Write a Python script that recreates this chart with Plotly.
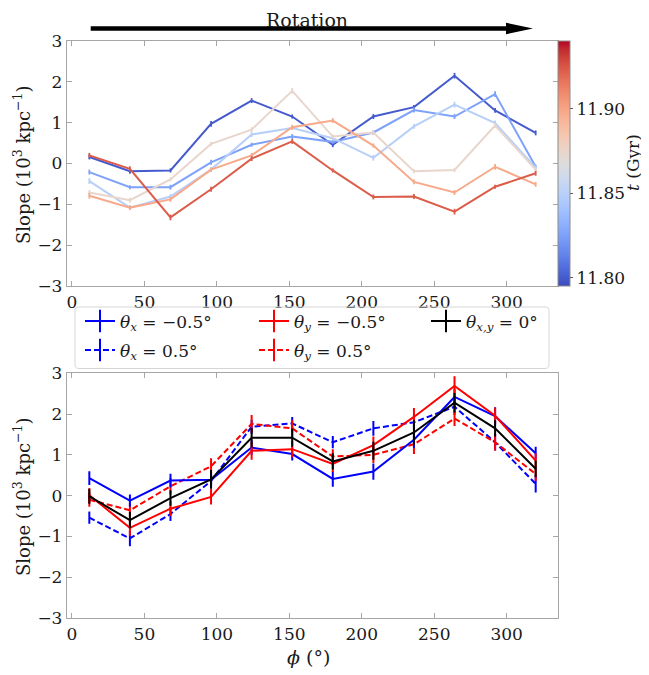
import plotly.graph_objects as go
from plotly.colors import sample_colorscale

# ---------------- data ----------------
phi = [12, 40, 68, 96, 124, 152, 180, 208, 236, 264, 292, 320]

times = [11.800, 11.825, 11.849, 11.874, 11.898, 11.923]
t_min, t_max = 11.795, 11.940

slope_t0 = [0.16, -0.19, -0.17, 0.97, 1.54, 1.15, 0.46, 1.15, 1.38, 2.15, 1.30, 0.75]
slope_t1 = [-0.21, -0.58, -0.58, 0.03, 0.46, 0.66, 0.53, 0.76, 1.31, 1.15, 1.70, -0.08]
slope_t2 = [-0.43, -1.08, -0.81, -0.15, 0.71, 0.87, 0.62, 0.14, 0.91, 1.44, 0.99, -0.10]
slope_t3 = [-0.71, -0.90, -0.39, 0.48, 0.83, 1.78, 0.66, 0.76, -0.19, -0.16, 0.93, -0.15]
slope_t4 = [-0.79, -1.08, -0.88, -0.15, 0.20, 0.89, 1.05, 0.44, -0.45, -0.71, -0.08, -0.51]
slope_t5 = [0.20, -0.13, -1.32, -0.63, 0.12, 0.54, -0.17, -0.82, -0.81, -1.18, -0.57, -0.24]

err_t0 = [0.06, 0.06, 0.05, 0.07, 0.06, 0.05, 0.06, 0.06, 0.05, 0.07, 0.06, 0.06]
err_t1 = [0.06, 0.05, 0.06, 0.06, 0.05, 0.06, 0.05, 0.06, 0.06, 0.06, 0.07, 0.05]
err_t2 = [0.07, 0.05, 0.06, 0.06, 0.06, 0.05, 0.06, 0.07, 0.06, 0.07, 0.06, 0.05]
err_t3 = [0.06, 0.06, 0.05, 0.05, 0.06, 0.07, 0.05, 0.06, 0.05, 0.05, 0.06, 0.05]
err_t4 = [0.07, 0.06, 0.06, 0.05, 0.06, 0.06, 0.06, 0.05, 0.06, 0.06, 0.07, 0.06]
err_t5 = [0.06, 0.06, 0.07, 0.06, 0.06, 0.06, 0.05, 0.06, 0.06, 0.07, 0.05, 0.06]

top_slopes = [slope_t0, slope_t1, slope_t2, slope_t3, slope_t4, slope_t5]
top_errs = [err_t0, err_t1, err_t2, err_t3, err_t4, err_t5]

thx_neg = [0.43, -0.12, 0.37, 0.39, 1.18, 1.02, 0.41, 0.59, 1.37, 2.42, 1.95, 1.04]
thx_pos = [-0.54, -1.05, -0.45, 0.36, 1.69, 1.77, 1.31, 1.65, 1.80, 2.18, 1.31, 0.29]
thy_neg = [0.01, -0.79, -0.32, -0.03, 1.10, 1.14, 0.78, 1.24, 1.93, 2.69, 1.96, 0.86]
thy_pos = [-0.10, -0.36, 0.23, 0.72, 1.76, 1.65, 0.96, 1.00, 1.26, 1.89, 1.31, 0.53]
th_zero = [-0.02, -0.60, -0.06, 0.40, 1.42, 1.42, 0.84, 1.10, 1.55, 2.28, 1.65, 0.66]

thx_neg_err = [0.17, 0.15, 0.17, 0.16, 0.18, 0.16, 0.19, 0.20, 0.20, 0.20, 0.22, 0.16]
thx_pos_err = [0.15, 0.19, 0.17, 0.18, 0.17, 0.16, 0.15, 0.18, 0.20, 0.20, 0.20, 0.21]
thy_neg_err = [0.18, 0.20, 0.18, 0.19, 0.22, 0.20, 0.20, 0.21, 0.22, 0.24, 0.20, 0.18]
thy_pos_err = [0.17, 0.18, 0.20, 0.20, 0.22, 0.20, 0.18, 0.20, 0.24, 0.18, 0.20, 0.17]
th_zero_err = [0.18, 0.20, 0.19, 0.23, 0.24, 0.22, 0.20, 0.22, 0.30, 0.24, 0.20, 0.20]

legend_labels = [
    "<i>θ<sub>x</sub></i> = −0.5°",
    "<i>θ<sub>y</sub></i> = −0.5°",
    "<i>θ<sub>x,y</sub></i> = 0°",
    "<i>θ<sub>x</sub></i> = 0.5°",
    "<i>θ<sub>y</sub></i> = 0.5°",
]

x_ticks = [0, 50, 100, 150, 200, 250, 300]
y_ticks = [-3, -2, -1, 0, 1, 2, 3]
cbar_ticks = [11.80, 11.85, 11.90]

# ---------------- style ----------------
coolwarm_rgb = [
    (59, 76, 192), (68, 90, 204), (77, 104, 215), (87, 117, 225), (98, 130, 234),
    (108, 142, 241), (119, 154, 247), (130, 165, 251), (141, 176, 254), (152, 185, 255),
    (163, 194, 255), (174, 201, 253), (184, 208, 249), (194, 213, 244), (204, 217, 238),
    (213, 219, 230), (221, 221, 221), (229, 216, 209), (236, 211, 197), (241, 204, 185),
    (245, 196, 173), (247, 187, 160), (247, 177, 148), (247, 166, 135), (244, 154, 123),
    (241, 141, 111), (236, 127, 99), (229, 112, 88), (222, 96, 77), (213, 80, 66),
    (203, 62, 56), (192, 40, 47), (180, 4, 38),
]
n = len(coolwarm_rgb) - 1
coolwarm = [[i / n, "rgb(%d,%d,%d)" % c] for i, c in enumerate(coolwarm_rgb)]

FONT = "DejaVu Serif"
TXT = "#1a1a1a"
AX_COL = "#a6a6a6"

# page body has an 8px margin: the figure is drawn 8px right/down of the page origin
OFF = 8
W, H = 649 - OFF, 675 - OFF
ML, MR, MT, MB = 59, 91, 33, 57
PW, PH = W - ML - MR, H - MT - MB


def pxx(p):  # reference-picture x pixel -> paper
    return (p - OFF - ML) / PW


def pxy(p):  # reference-picture y pixel -> paper
    return (H - MB - (p - OFF)) / PH


fig = go.Figure()

for t, ys, es in zip(times, top_slopes, top_errs):
    c = sample_colorscale(coolwarm, [(t - t_min) / (t_max - t_min)])[0]
    fig.add_trace(go.Scatter(
        x=phi, y=ys, mode="lines", line=dict(color=c, width=2),
        error_y=dict(type="data", array=es, width=0, thickness=1.8, color=c),
        showlegend=False, xaxis="x", yaxis="y", hoverinfo="skip"))

fig.add_trace(go.Scatter(
    x=[None], y=[None], mode="markers", showlegend=False, xaxis="x", yaxis="y",
    marker=dict(color=[times[0]], cmin=t_min, cmax=t_max, colorscale=coolwarm,
                showscale=True,
                colorbar=dict(x=1.0, xanchor="left", xpad=0, y=1, yanchor="top", ypad=0,
                              len=1 - pxy(286), lenmode="fraction", thickness=12,
                              outlinewidth=1, outlinecolor="#8c8c8c",
                              ticks="outside", ticklen=3, tickcolor="#555",
                              tickvals=cbar_ticks, ticktext=["%.2f" % v for v in cbar_ticks],
                              tickfont=dict(size=17, family=FONT, color=TXT)))))

bottom = [
    (thx_neg, thx_neg_err, "#0000ff", "solid", legend_labels[0]),
    (thy_neg, thy_neg_err, "#ff0000", "solid", legend_labels[1]),
    (th_zero, th_zero_err, "#000000", "solid", legend_labels[2]),
    (thx_pos, thx_pos_err, "#0000ff", "6px,3px", legend_labels[3]),
    (thy_pos, thy_pos_err, "#ff0000", "6px,3px", legend_labels[4]),
]
draw_order = [3, 4, 0, 1, 2]
for i in draw_order:
    ys, es, c, d, lab = bottom[i]
    fig.add_trace(go.Scatter(
        x=phi, y=ys, mode="lines", line=dict(color=c, width=2, dash=d),
        error_y=dict(type="data", array=es, width=0, thickness=2, color=c),
        showlegend=False, xaxis="x2", yaxis="y2", hoverinfo="skip"))

# legend: one single-entry legend per slot, laid out like the reference's 3-column box
legend_names = ["legend", "legend2", "legend3", "legend4", "legend5"]
legend_slots = [(80, 321.5), (254, 321.5), (426, 321.5), (80, 350.5), (254, 350.5)]
legend_layout = {}
for (ys, es, c, d, lab), lname, (lx, ly) in zip(bottom, legend_names, legend_slots):
    fig.add_trace(go.Scatter(
        x=[None], y=[None], mode="lines+markers", name=lab, legend=lname,
        line=dict(color=c, width=2, dash=d),
        marker=dict(symbol="line-ns", size=16, color=c, line=dict(color=c, width=2)),
        xaxis="x2", yaxis="y2", showlegend=True))
    legend_layout[lname] = dict(x=pxx(lx), y=pxy(ly), xanchor="left", yanchor="middle",
                                bgcolor="rgba(0,0,0,0)", borderwidth=0,
                                font=dict(size=17, family=FONT, color=TXT))

axis_common = dict(
    showgrid=False, zeroline=False, showline=True, linecolor=AX_COL, linewidth=1.3,
    mirror="ticks", ticks="inside", ticklen=5, tickcolor=AX_COL, tickwidth=1,
    tickfont=dict(size=17, family=FONT, color=TXT), automargin=False,
)

ytitle = "Slope (10<sup>3</sup> kpc<sup>−1</sup>)"

# rounded legend frame (reference pixels)
bx0, bx1, by0, by1, r = 75, 549, 307, 368.5, 4
frame = ("M %f,%f L %f,%f Q %f,%f %f,%f L %f,%f Q %f,%f %f,%f L %f,%f Q %f,%f %f,%f "
         "L %f,%f Q %f,%f %f,%f Z") % (
    pxx(bx0 + r), pxy(by0), pxx(bx1 - r), pxy(by0), pxx(bx1), pxy(by0), pxx(bx1), pxy(by0 + r),
    pxx(bx1), pxy(by1 - r), pxx(bx1), pxy(by1), pxx(bx1 - r), pxy(by1),
    pxx(bx0 + r), pxy(by1), pxx(bx0), pxy(by1), pxx(bx0), pxy(by1 - r),
    pxx(bx0), pxy(by0 + r), pxx(bx0), pxy(by0), pxx(bx0 + r), pxy(by0))

fig.update_layout(
    width=W, height=H,
    margin=dict(l=ML, r=MR, t=MT, b=MB, autoexpand=False),
    template="none", paper_bgcolor="white", plot_bgcolor="white",
    font=dict(family=FONT, color=TXT),
    xaxis=dict(domain=[0, 1], anchor="y", range=[-3.4, 335.4], tickvals=x_ticks, **axis_common),
    yaxis=dict(domain=[pxy(286), 1], anchor="x", range=[-3, 3], tickvals=y_ticks, **axis_common),
    xaxis2=dict(domain=[0, 1], anchor="y2", range=[-3.4, 335.4], tickvals=x_ticks, **axis_common),
    yaxis2=dict(domain=[0, pxy(373.3)], anchor="x2", range=[-3, 3], tickvals=y_ticks,
                **axis_common),
    shapes=[
        dict(type="path", xref="paper", yref="paper", path=frame,
             line=dict(color="#d6d6d6", width=1), fillcolor="rgba(0,0,0,0)"),
        dict(type="line", xref="paper", yref="paper", x0=pxx(90.7), x1=pxx(509), y0=pxy(28.5),
             y1=pxy(28.5), line=dict(color="black", width=4.5)),
        dict(type="path", xref="paper", yref="paper", fillcolor="black", line=dict(width=0),
             path="M %f,%f L %f,%f L %f,%f Z" % (pxx(506), pxy(22.7), pxx(533), pxy(28.5),
                                                 pxx(506), pxy(34.3))),
    ],
    annotations=[
        dict(text="Rotation", xref="paper", yref="paper", x=pxx(307), y=pxy(19.5),
             showarrow=False, font=dict(size=19, family=FONT, color=TXT),
             xanchor="center", yanchor="middle"),
        dict(text=ytitle, xref="paper", yref="paper", x=pxx(22), y=pxy(165),
             textangle=-90, showarrow=False, font=dict(size=18, family=FONT, color=TXT),
             xanchor="center", yanchor="middle"),
        dict(text=ytitle, xref="paper", yref="paper", x=pxx(22), y=pxy(497),
             textangle=-90, showarrow=False, font=dict(size=18, family=FONT, color=TXT),
             xanchor="center", yanchor="middle"),
        dict(text="<i>ϕ</i> (°)", xref="paper", yref="paper", x=pxx(308), y=pxy(657),
             showarrow=False, font=dict(size=19, family=FONT, color=TXT),
             xanchor="center", yanchor="middle"),
        dict(text="<i>t</i> (Gyr)", xref="paper", yref="paper", x=pxx(633), y=pxy(163),
             textangle=-90, showarrow=False, font=dict(size=17, family=FONT, color=TXT),
             xanchor="center", yanchor="middle"),
    ],
    **legend_layout,
)

fig.write_html("out.html")
